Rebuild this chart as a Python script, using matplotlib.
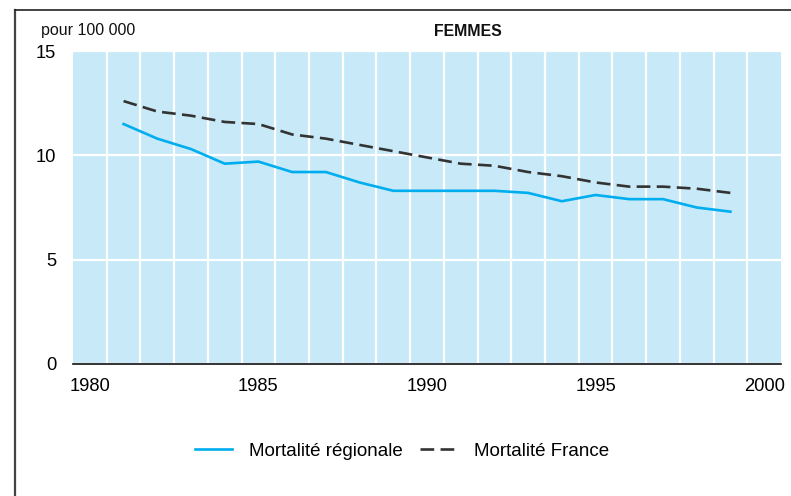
import matplotlib
matplotlib.use("Agg")
import matplotlib.pyplot as plt
from matplotlib.lines import Line2D
import numpy as np

plt.rcParams['font.family'] = ['Liberation Sans', 'DejaVu Sans']

years = [1981, 1982, 1983, 1984, 1985, 1986, 1987, 1988, 1989, 1990,
         1991, 1992, 1993, 1994, 1995, 1996, 1997, 1998, 1999]
regionale = [11.5, 10.8, 10.3, 9.6, 9.7, 9.2, 9.2, 8.7, 8.3, 8.3,
             8.3, 8.3, 8.2, 7.8, 8.1, 7.9, 7.9, 7.5, 7.3]
france = [12.6, 12.1, 11.9, 11.6, 11.5, 11.0, 10.8, 10.5, 10.2, 9.9,
          9.6, 9.5, 9.2, 9.0, 8.7, 8.5, 8.5, 8.4, 8.2]
xticks = [1980, 1985, 1990, 1995, 2000]
yticks = [0, 5, 10, 15]

W, H = 791, 496
fig = plt.figure(figsize=(W / 100, H / 100), dpi=100)
ax = fig.add_axes([73 / W, 1 - 364 / H, (781 - 73) / W, (364 - 51) / H])
ax.set_facecolor('#c7e9f8')

ax.plot(years, regionale, color='#00aeef', lw=1.9, solid_joinstyle='round',
        label='Mortalité régionale')
ax.plot(years, france, color='#333333', lw=1.9, dashes=(5.2, 2.4),
        label='Mortalité France')

ax.set_xlim(1979.5, 2000.5)
ax.set_ylim(0, 15)
ax.set_xticks(xticks)
ax.set_yticks(yticks)
ax.set_xticks(np.arange(1980.5, 2000, 1.0), minor=True)
ax.tick_params(axis='both', which='both', length=0, labelsize=13.2)
ax.tick_params(axis='x', pad=10)
ax.tick_params(axis='y', pad=12)
ax.grid(True, which='minor', axis='x', color='white', lw=1.6)
ax.grid(True, which='major', axis='y', color='white', lw=1.6)
ax.set_axisbelow(True)
for s in ['top', 'right', 'left']:
    ax.spines[s].set_visible(False)
ax.spines['bottom'].set_color('#111111')
ax.spines['bottom'].set_linewidth(1.2)
ax.spines['bottom'].set_zorder(5)

fig.text(41 / W, 1 - 31 / H, 'pour 100 000', fontsize=11.5, ha='left', va='center',
         color='#111111')
fig.text(468 / W, 1 - 31 / H, 'FEMMES', fontsize=11.4, fontweight='bold',
         ha='center', va='center', color='#111111')

fig.legend(loc='center', bbox_to_anchor=(402 / W, 1 - 451 / H), ncol=2,
           frameon=False, fontsize=13.5, handlelength=2.0, handletextpad=0.9,
           columnspacing=0.9)

fig.add_artist(Line2D([15 / W, 15 / W], [0, 1 - 10 / H], transform=fig.transFigure,
                      color='#444444', lw=1.6))
fig.add_artist(Line2D([15 / W, 1], [1 - 10 / H, 1 - 10 / H], transform=fig.transFigure,
                      color='#222222', lw=1.2))

fig.savefig('out.png', dpi=100)
